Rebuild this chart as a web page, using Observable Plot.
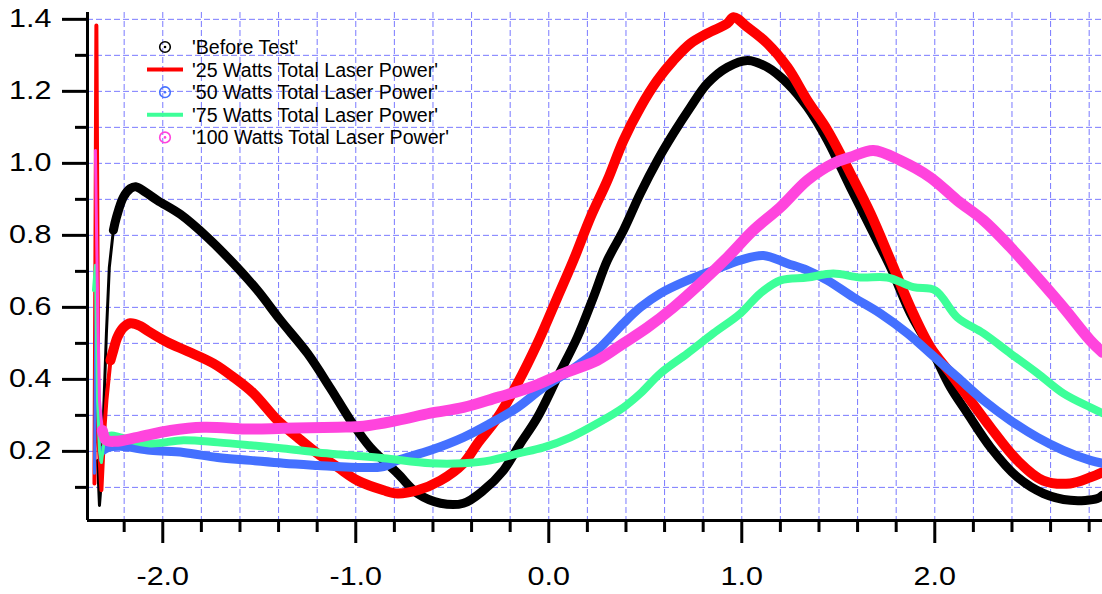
<!DOCTYPE html>
<html><head><meta charset="utf-8">
<script src="https://cdn.jsdelivr.net/npm/d3@7"></script>
<script src="https://cdn.jsdelivr.net/npm/@observablehq/plot@0.6"></script>
<style>
html,body{margin:0;padding:0;background:#fff;overflow:hidden;}
#wrap{position:relative;width:1102px;height:594px;font-family:"Liberation Sans",Arial,sans-serif;}
</style></head><body>
<div id="wrap"></div>
<script>
// ---- data ----
const seriesNames = ["'Before Test'", "'25 Watts Total Laser Power'", "'50 Watts Total Laser Power'", "'75 Watts Total Laser Power'", "'100 Watts Total Laser Power'"];

const beforeX = [-2.338,-2.328,-2.318,-2.308,-2.292,-2.277,-2.256,-2.240,-2.204,-2.168,-2.140,-2.090,-2.027,-1.908,-1.768,-1.634,-1.509,-1.390,-1.250,-1.131,-1.027,-0.924,-0.784,-0.680,-0.561,-0.442,-0.338,-0.235,-0.147,-0.059,0.045,0.148,0.231,0.304,0.387,0.475,0.563,0.646,0.734,0.822,0.926,1.030,1.133,1.237,1.340,1.444,1.563,1.667,1.771,1.874,1.993,2.081,2.169,2.289,2.429,2.563,2.703,2.843,2.869];
const beforeY = [0.175,0.050,0.119,0.286,0.528,0.711,0.814,0.850,0.906,0.930,0.935,0.920,0.897,0.858,0.794,0.722,0.647,0.564,0.472,0.375,0.286,0.211,0.139,0.083,0.056,0.056,0.092,0.147,0.222,0.294,0.406,0.517,0.628,0.731,0.814,0.917,1.008,1.083,1.156,1.222,1.267,1.286,1.267,1.222,1.156,1.064,0.933,0.822,0.711,0.583,0.472,0.378,0.306,0.211,0.128,0.083,0.064,0.069,0.078];

const w25X = [-2.354,-2.344,-2.333,-2.318,-2.303,-2.292,-2.271,-2.256,-2.235,-2.204,-2.168,-2.116,-2.079,-1.976,-1.872,-1.737,-1.634,-1.530,-1.405,-1.302,-1.198,-1.094,-0.991,-0.856,-0.784,-0.680,-0.561,-0.442,-0.369,-0.265,-0.162,-0.059,0.045,0.128,0.216,0.304,0.387,0.475,0.563,0.646,0.734,0.822,0.926,0.957,1.030,1.133,1.237,1.340,1.444,1.563,1.667,1.771,1.874,1.978,2.081,2.184,2.288,2.428,2.562,2.702,2.806,2.869];
const w25Y = [0.111,1.383,0.231,0.092,0.258,0.342,0.453,0.481,0.517,0.544,0.556,0.548,0.535,0.503,0.478,0.444,0.406,0.361,0.286,0.239,0.194,0.156,0.119,0.092,0.083,0.092,0.119,0.167,0.222,0.294,0.389,0.500,0.628,0.731,0.850,0.953,1.064,1.156,1.231,1.286,1.333,1.361,1.389,1.406,1.378,1.333,1.267,1.175,1.092,0.972,0.861,0.731,0.600,0.489,0.417,0.342,0.267,0.175,0.119,0.111,0.128,0.142];

const w50X = [-2.354,-2.344,-2.333,-2.323,-2.308,-2.282,-2.220,-2.064,-1.893,-1.716,-1.546,-1.375,-1.198,-1.027,-0.856,-0.784,-0.613,-0.442,-0.302,-0.162,-0.027,0.113,0.252,0.387,0.475,0.579,0.718,0.853,0.993,1.112,1.236,1.340,1.444,1.578,1.718,1.858,1.977,2.117,2.252,2.392,2.532,2.666,2.806,2.869];
const w50Y = [0.139,0.717,0.286,0.175,0.203,0.211,0.214,0.203,0.197,0.183,0.175,0.167,0.161,0.156,0.158,0.175,0.203,0.239,0.278,0.322,0.378,0.425,0.481,0.556,0.600,0.639,0.675,0.703,0.731,0.744,0.722,0.703,0.675,0.628,0.583,0.528,0.472,0.406,0.342,0.286,0.239,0.203,0.175,0.167];

const w75X = [-2.359,-2.349,-2.338,-2.328,-2.318,-2.303,-2.271,-2.220,-2.064,-1.893,-1.716,-1.546,-1.375,-1.198,-1.027,-0.856,-0.613,-0.442,-0.302,-0.162,-0.027,0.113,0.252,0.387,0.475,0.579,0.718,0.853,0.993,1.096,1.200,1.340,1.474,1.614,1.754,1.889,2.003,2.117,2.252,2.392,2.532,2.666,2.806,2.869];
const w75Y = [0.647,0.717,0.342,0.203,0.169,0.231,0.244,0.239,0.222,0.231,0.225,0.217,0.208,0.197,0.189,0.181,0.167,0.167,0.175,0.194,0.211,0.239,0.278,0.322,0.361,0.417,0.472,0.528,0.583,0.639,0.675,0.683,0.694,0.683,0.683,0.656,0.647,0.572,0.528,0.472,0.417,0.361,0.322,0.306];

const w100X = [-2.349,-2.338,-2.328,-2.313,-2.292,-2.245,-2.131,-1.960,-1.789,-1.546,-1.375,-1.094,-0.960,-0.784,-0.613,-0.442,-0.265,-0.094,0.077,0.252,0.387,0.511,0.646,0.786,0.926,1.060,1.200,1.340,1.475,1.563,1.682,1.822,1.977,2.117,2.252,2.392,2.532,2.666,2.806,2.869];
const w100Y = [1.036,0.619,0.342,0.258,0.231,0.228,0.239,0.258,0.267,0.262,0.264,0.267,0.270,0.286,0.306,0.322,0.350,0.378,0.417,0.453,0.500,0.544,0.600,0.667,0.739,0.814,0.878,0.953,1.000,1.017,1.036,1.008,0.961,0.897,0.842,0.767,0.683,0.600,0.508,0.475];

const xMajorTicks = [-2, -1, 0, 1, 2];
const xMinorTicks = [-2.2,-1.8,-1.6,-1.4,-1.2,-0.8,-0.6,-0.4,-0.2,0.2,0.4,0.6,0.8,1.2,1.4,1.6,1.8,2.2,2.4,2.6,2.8];
const yMajorTicks = [0.2, 0.4, 0.6, 0.8, 1.0, 1.2, 1.4];
const yMinorTicks = [0.1, 0.3, 0.5, 0.7, 0.9, 1.1, 1.3];
const gridXValues = [-2.2,-2.0,-1.8,-1.6,-1.4,-1.2,-1.0,-0.8,-0.6,-0.4,-0.2,0,0.2,0.4,0.6,0.8,1.0,1.2,1.4,1.6,1.8,2.0,2.2,2.4,2.6,2.8];
const gridYValues = [0.1,0.2,0.3,0.4,0.5,0.6,0.7,0.8,0.9,1.0,1.1,1.2,1.3,1.4];

// ---- styles ----
const xDomain = [-2.39, 2.869];
const yDomain = [0.008, 1.419];
const styles = [
  {xs: beforeX, ys: beforeY, color: "#000000", thin: 3, thick: 9, cut: -2.256, kind: "dot"},
  {xs: w25X, ys: w25Y, color: "#ff0000", thin: 4, thick: 10, cut: -2.271, kind: "line"},
  {xs: w50X, ys: w50Y, color: "#4470ff", thin: 3, thick: 9, cut: -2.308, kind: "dot"},
  {xs: w75X, ys: w75Y, color: "#3dff99", thin: 3, thick: 8, cut: -2.303, kind: "line"},
  {xs: w100X, ys: w100Y, color: "#ff44dd", thin: 3, thick: 11, cut: -2.313, kind: "dot"}
];

const gridColor = "#6a6aff";
const marks = [
  Plot.gridX(gridXValues, {stroke: gridColor, strokeOpacity: 0.9, strokeWidth: 1, strokeDasharray: "6,3"}),
  Plot.gridY(gridYValues, {stroke: gridColor, strokeOpacity: 0.9, strokeWidth: 1, strokeDasharray: "6,3"})
];
styles.forEach((s, i) => {
  const pts = s.xs.map((x, j) => ({x, y: s.ys[j], series: seriesNames[i]}));
  marks.push(Plot.line(pts.filter(d => d.x <= s.cut), {x: "x", y: "y", stroke: s.color, strokeWidth: s.thin, strokeLinejoin: "round"}));
  marks.push(Plot.line(pts.filter(d => d.x >= s.cut), {x: "x", y: "y", stroke: s.color, strokeWidth: s.thick, curve: "catmull-rom", strokeLinejoin: "round", strokeLinecap: "round"}));
});
marks.push(
  Plot.ruleX([xDomain[0]], {stroke: "black", strokeWidth: 3}),
  Plot.ruleY([yDomain[0]], {stroke: "black", strokeWidth: 3}),
  Plot.axisX(xMajorTicks, {anchor: "bottom", tickSize: 23, tickPadding: 24, strokeWidth: 3, fontSize: 25, tickFormat: d => d.toFixed(1), label: null}),
  Plot.axisX(xMinorTicks, {anchor: "bottom", tickSize: 12, strokeWidth: 3, tickFormat: () => "", label: null}),
  Plot.axisY(yMajorTicks, {anchor: "left", tickSize: 25, tickPadding: 11, strokeWidth: 3, fontSize: 25, tickFormat: d => d.toFixed(1), label: null}),
  Plot.axisY(yMinorTicks, {anchor: "left", tickSize: 12, strokeWidth: 3, tickFormat: () => "", label: null})
);

const chart = Plot.plot({
  width: 1102, height: 594,
  marginLeft: 87, marginRight: 0, marginTop: 12, marginBottom: 74,
  x: {domain: xDomain, label: null},
  y: {domain: yDomain, label: null},
  style: {fontFamily: '"Liberation Sans", Arial, sans-serif', background: "white", color: "black", overflow: "visible"},
  marks
});
const wrap = document.getElementById("wrap");
wrap.appendChild(chart);

// widen tick labels around their anchor (reference glyphs are horizontally stretched)
chart.querySelectorAll('g[aria-label$="tick label"] text').forEach(t => {
  if (!t.textContent) return;
  const b = t.getBBox();
  const anchor = t.getAttribute("text-anchor") || (t.parentNode && t.parentNode.getAttribute("text-anchor")) || "middle";
  const ax = anchor === "end" ? b.x + b.width : anchor === "start" ? b.x : b.x + b.width / 2;
  const tr = t.getAttribute("transform") || "";
  t.setAttribute("transform", `${tr} translate(${ax},0) scale(1.22,1) translate(${-ax},0)`);
});

// ---- legend ----
const lg = d3.select(wrap).append("svg")
  .attr("width", 1102).attr("height", 594)
  .style("position", "absolute").style("left", "0px").style("top", "0px")
  .style("font-family", '"Liberation Sans", Arial, sans-serif');
styles.forEach((s, i) => {
  const cy = 47 + i * 22.6;
  const g = lg.append("g");
  if (s.kind === "line") {
    g.append("line").attr("x1", 147).attr("x2", 183).attr("y1", cy).attr("y2", cy)
      .attr("stroke", s.color).attr("stroke-width", 4);
  } else {
    g.append("circle").attr("cx", 165).attr("cy", cy).attr("r", 5.3)
      .attr("fill", "none").attr("stroke", s.color).attr("stroke-width", 1.6);
    g.append("circle").attr("cx", 165).attr("cy", cy).attr("r", 1.3).attr("fill", s.color);
  }
  g.append("text").attr("x", 192).attr("y", cy).attr("dy", "0.36em")
    .attr("font-size", 19.6).attr("fill", "black").text(seriesNames[i]);
});
</script>
</body></html>
